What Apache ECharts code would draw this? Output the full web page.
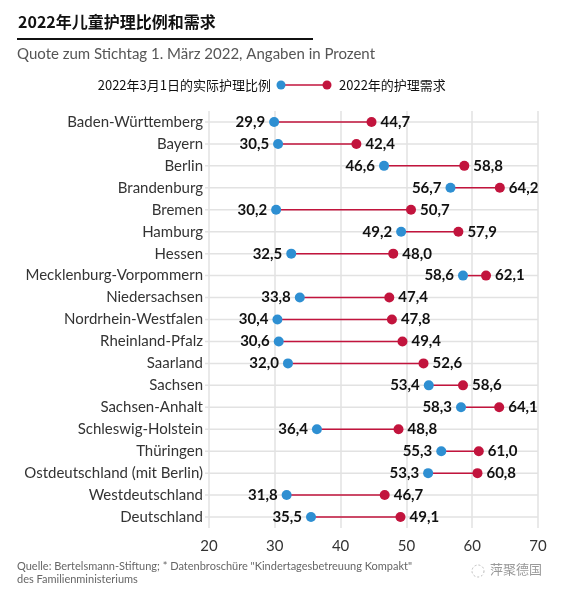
<!DOCTYPE html>
<html>
<head>
<meta charset="utf-8">
<script src="https://cdn.jsdelivr.net/npm/echarts@6/dist/echarts.min.js"></script>
<style>
html,body{margin:0;padding:0;background:#fff;}
#chart{width:567px;height:597px;}
</style>
</head>
<body>
<div id="chart"></div>
<script>
const categories = ["Baden-Württemberg","Bayern","Berlin","Brandenburg","Bremen","Hamburg","Hessen","Mecklenburg-Vorpommern","Niedersachsen","Nordrhein-Westfalen","Rheinland-Pfalz","Saarland","Sachsen","Sachsen-Anhalt","Schleswig-Holstein","Thüringen","Ostdeutschland (mit Berlin)","Westdeutschland","Deutschland"];
const actual2022 = [29.9,30.5,46.6,56.7,30.2,49.2,32.5,58.6,33.8,30.4,30.6,32.0,53.4,58.3,36.4,55.3,53.3,31.8,35.5];
const demand2022 = [44.7,42.4,58.8,64.2,50.7,57.9,48.0,62.1,47.4,47.8,49.4,52.6,58.6,64.1,48.8,61.0,60.8,46.7,49.1];
const xTicks = [20,30,40,50,60,70];
const seriesNames = ["2022年3月1日的实际护理比例","2022年的护理需求"];

const BLUE = "#2e8fd2";
const RED = "#c2143d";
const LATIN = "Lato, 'Noto Sans', sans-serif";
const CJK = "'Noto Sans CJK SC', sans-serif";
const fmt = v => v.toFixed(1).replace('.', ',');

const chart = echarts.init(document.getElementById('chart'));
const option = {
  animation: false,
  backgroundColor: '#fff',
  grid: {left: 209, right: 29, top: 111, bottom: 69},
  xAxis: {
    type: 'value', min: xTicks[0], max: xTicks[xTicks.length-1], interval: 10,
    axisLine: {show: false}, axisTick: {show: false},
    axisLabel: {color: '#333', fontFamily: LATIN, fontSize: 15, margin: 11},
    splitLine: {show: true, lineStyle: {color: '#e2e2e2', width: 1.5}}
  },
  yAxis: {
    type: 'category', data: categories, inverse: true,
    axisLine: {show: false}, axisTick: {show: false},
    axisLabel: {color: '#333', fontFamily: LATIN, fontSize: 15, margin: 6},
    splitLine: {show: false}
  },
  graphic: [
    {type: 'text', left: 18, top: 14, style: {text: '2022年儿童护理比例和需求', fill: '#111', font: 'bold 16px ' + CJK}},
    {type: 'rect', shape: {x: 17, y: 38, width: 296, height: 2}, style: {fill: '#111'}},
    {type: 'text', left: 17, top: 47, style: {text: 'Quote zum Stichtag 1. März 2022, Angaben in Prozent', fill: '#555', font: '15px ' + LATIN}},
    {type: 'text', x: 271, y: 85, style: {text: seriesNames[0], fill: '#111', font: '13px ' + CJK, align: 'right', verticalAlign: 'middle'}},
    {type: 'line', shape: {x1: 282, y1: 85, x2: 326, y2: 85}, style: {stroke: RED, lineWidth: 1.5}},
    {type: 'circle', shape: {cx: 281, cy: 85, r: 4.5}, style: {fill: BLUE}},
    {type: 'circle', shape: {cx: 327, cy: 85, r: 4.5}, style: {fill: RED}},
    {type: 'text', x: 339, y: 85, style: {text: seriesNames[1], fill: '#111', font: '13px ' + CJK, verticalAlign: 'middle'}},
    {type: 'text', left: 17, top: 560, style: {text: 'Quelle: Bertelsmann-Stiftung; * Datenbroschüre "Kindertagesbetreuung Kompakt"\ndes Familienministeriums', fill: '#666', font: '11px ' + LATIN, lineHeight: 13}},
    {type: 'text', left: 490, top: 563, style: {text: '萍聚德国', fill: '#999', font: '13px ' + CJK}},
    {type: 'circle', shape: {cx: 478, cy: 571, r: 6}, style: {fill: 'none', stroke: '#bbb', lineWidth: 1, lineDash: [2,2]}}
  ],
  series: [
    {
      type: 'custom', silent: true, z: 1,
      renderItem: function (params, api) {
        const i = api.value(0);
        const a = api.coord([xTicks[0], i]);
        const b = api.coord([xTicks[xTicks.length-1], i]);
        return {type: 'line', shape: {x1: a[0]-4, y1: a[1], x2: b[0], y2: b[1]}, style: {stroke: '#e2e2e2', lineWidth: 1.5}};
      },
      encode: {y: 0},
      data: categories.map((c, i) => [i])
    },
    {
      type: 'custom', silent: true, z: 2,
      renderItem: function (params, api) {
        const i = api.value(0);
        const a = api.coord([api.value(1), i]);
        const b = api.coord([api.value(2), i]);
        return {type: 'line', shape: {x1: a[0], y1: a[1], x2: b[0], y2: b[1]}, style: {stroke: RED, lineWidth: 1.5}};
      },
      encode: {y: 0, x: [1, 2]},
      data: categories.map((c, i) => [i, actual2022[i], demand2022[i]])
    },
    {
      name: seriesNames[0], type: 'scatter', z: 3, symbolSize: 10,
      itemStyle: {color: BLUE, opacity: 1},
      label: {show: true, position: 'left', distance: 4, color: '#111', fontWeight: 'bold', fontFamily: LATIN, fontSize: 15,
        formatter: p => fmt(p.value[0])},
      data: actual2022.map((v, i) => [v, categories[i]])
    },
    {
      name: seriesNames[1], type: 'scatter', z: 3, symbolSize: 10,
      itemStyle: {color: RED, opacity: 1},
      label: {show: true, position: 'right', distance: 4, color: '#111', fontWeight: 'bold', fontFamily: LATIN, fontSize: 15,
        formatter: p => fmt(p.value[0])},
      data: demand2022.map((v, i) => [v, categories[i]])
    }
  ]
};
chart.setOption(option);
</script>
</body>
</html>
